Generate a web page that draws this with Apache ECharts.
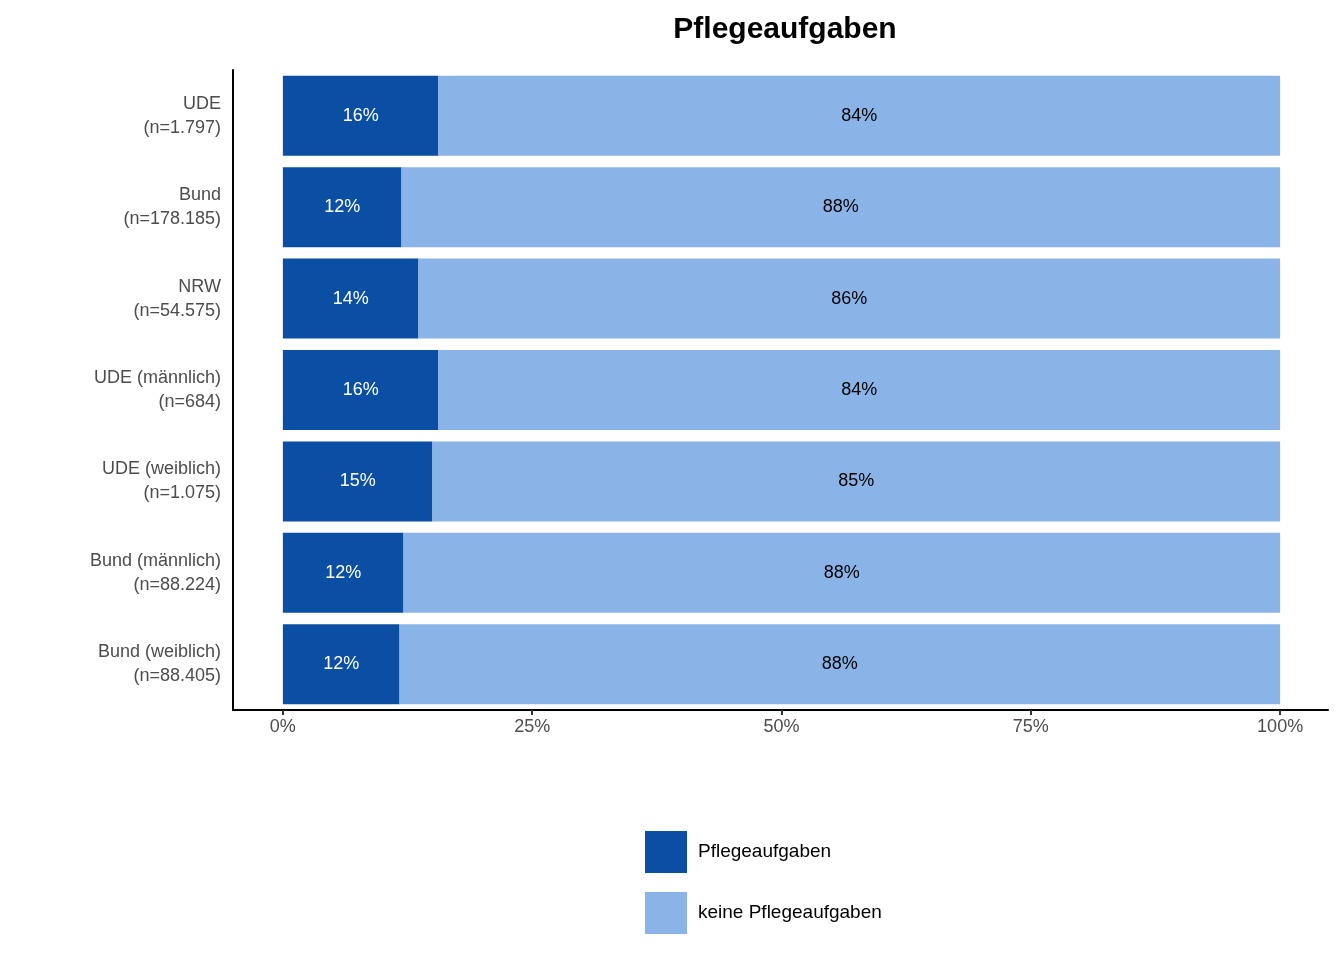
<!DOCTYPE html>
<html>
<head>
<meta charset="utf-8">
<script src="https://cdn.jsdelivr.net/npm/echarts@6/dist/echarts.min.js"></script>
<style>html,body{margin:0;background:#fff}#chart{width:1344px;height:960px}</style>
</head>
<body>
<div id="chart"></div>
<script>
const categories = ['UDE\n(n=1.797)', 'Bund\n(n=178.185)', 'NRW\n(n=54.575)', 'UDE (männlich)\n(n=684)',
  'UDE (weiblich)\n(n=1.075)', 'Bund (männlich)\n(n=88.224)', 'Bund (weiblich)\n(n=88.405)'];
const pflege = [15.6, 11.9, 13.6, 15.6, 15.0, 12.1, 11.7];
const keine = pflege.map(v => 100 - v);
const tickValues = [0, 25, 50, 75, 100];

const chart = echarts.init(document.getElementById('chart'));
const font = 'Liberation Sans, Arial, sans-serif';
chart.setOption({
  textStyle: { fontFamily: font },
  title: {
    text: 'Pflegeaufgaben', left: 780, top: 10, textAlign: 'center',
    textStyle: { fontSize: 30, fontWeight: 'bold', color: '#000', fontFamily: font }
  },
  grid: { left: 233, right: 16, top: 70, height: 640 },
  legend: {
    orient: 'vertical', left: 640, top: 826, itemWidth: 42, itemHeight: 42, itemGap: 19,
    icon: 'rect', textStyle: { fontSize: 19, color: '#000', padding: [0, 0, 0, 6] },
    data: ['Pflegeaufgaben', 'keine Pflegeaufgaben']
  },
  xAxis: {
    type: 'value', min: -5, max: 104.8,
    axisLine: { show: true, onZero: false, lineStyle: { color: '#000', width: 2 } },
    axisTick: { show: true, customValues: tickValues, length: 5, lineStyle: { color: '#333', width: 2 } },
    axisLabel: { customValues: tickValues, formatter: v => v + '%', fontSize: 18, color: '#4d4d4d', margin: 8 },
    splitLine: { show: false }
  },
  yAxis: {
    type: 'category', data: categories, inverse: true,
    axisLine: { onZero: false, lineStyle: { color: '#000', width: 2 } },
    axisTick: { length: 5, alignWithLabel: true, lineStyle: { color: '#333', width: 2 } },
    axisLabel: { fontSize: 18, color: '#4d4d4d', lineHeight: 24, margin: 12 }
  },
  series: [
    {
      name: 'Pflegeaufgaben', type: 'bar', stack: 's', data: pflege, barWidth: 80,
      itemStyle: { color: '#0a4fa3' },
      label: { show: true, position: 'inside', color: '#fff', fontSize: 18, formatter: p => Math.round(p.value) + '%' }
    },
    {
      name: 'keine Pflegeaufgaben', type: 'bar', stack: 's', data: keine, barWidth: 80,
      itemStyle: { color: '#8ab4e8' },
      label: { show: true, position: 'inside', color: '#000', fontSize: 18, formatter: p => Math.round(p.value) + '%' }
    }
  ]
});
</script>
</body>
</html>
